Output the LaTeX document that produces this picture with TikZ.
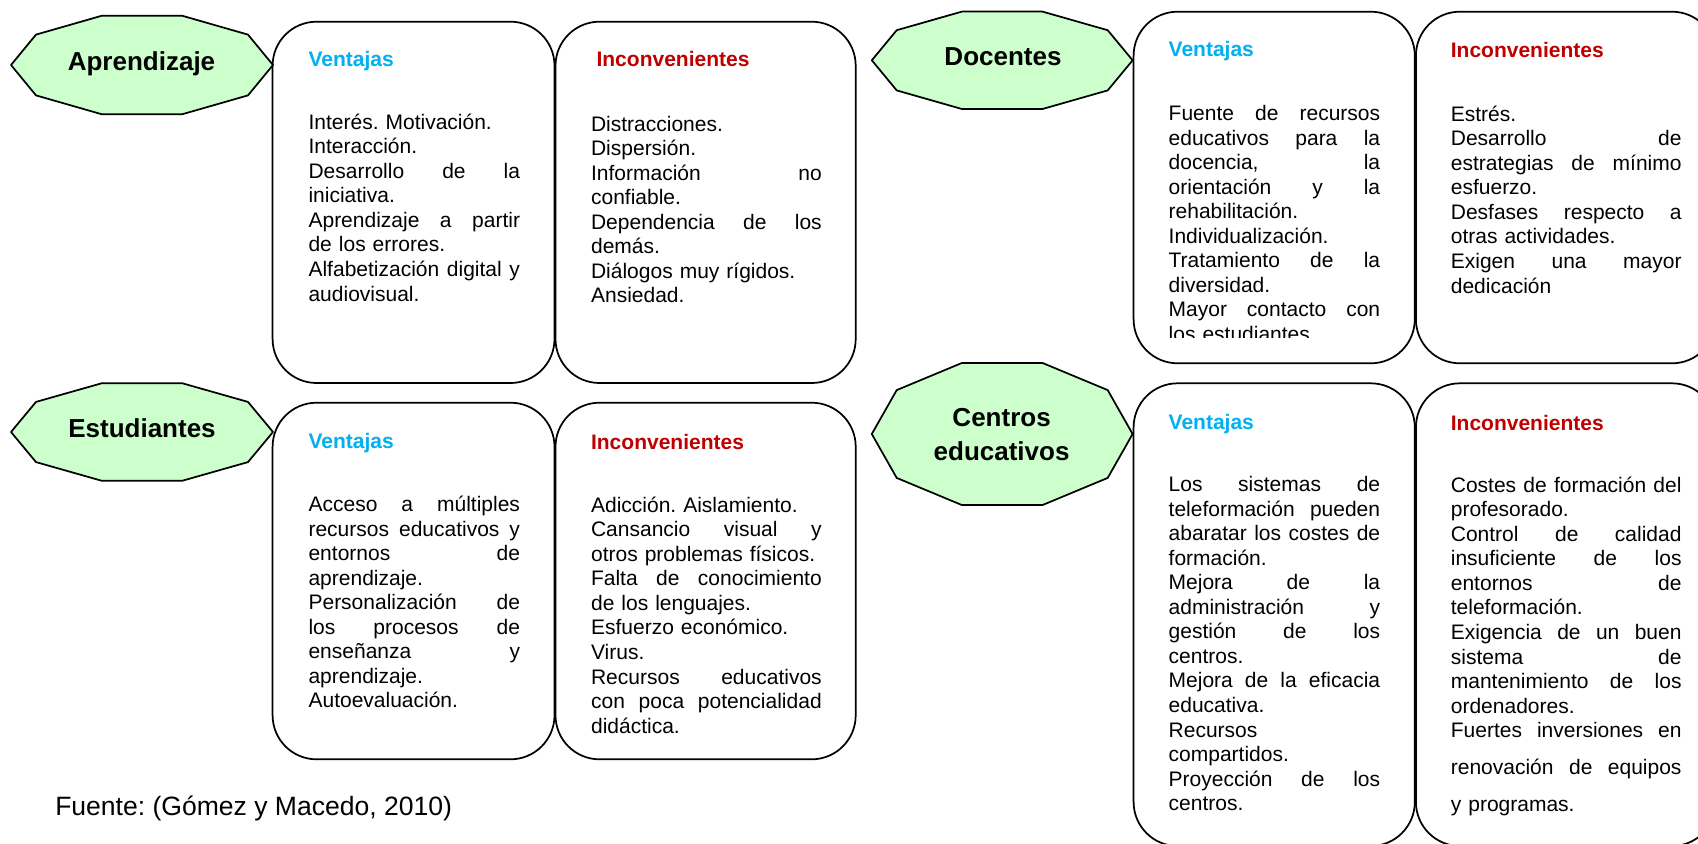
\documentclass[tikz,border=0pt]{standalone}
\usepackage{fontspec}
\setmainfont{Liberation Sans}
\definecolor{verdeclaro}{HTML}{CCFFCC}
\definecolor{azulv}{HTML}{00B0F0}
\definecolor{rojoi}{HTML}{C00000}
% column width of the text block in force
\newlength\colw
% justified line: the spaces stretch to fill the whole column
\newcommand\J[1]{\leavevmode\hbox to \colw{\spaceskip=0.28em plus 1fil\relax #1}}
% decagon: centre (#1,#2), radii #3 and #4
\newcommand\decagono[4]{\draw[deca] plot[samples at={0,36,...,324}, variable=\t] ({#1+#3*cos(\t)},{#2+#4*sin(\t)}) -- cycle;}
\begin{document}
\frenchspacing
\begin{tikzpicture}[x=0.75pt,y=-0.75pt,
  caja/.style={draw=black, line width=1.3pt, rounded corners=33pt},
  deca/.style={draw=black, line width=1.3pt, fill=verdeclaro, line join=round},
  etiqueta/.style={anchor=base, inner sep=0pt, font=\fontsize{19.5}{26}\selectfont\bfseries},
  ventaja/.style={anchor=base west, inner sep=0pt, font=\fontsize{15.75}{18.4}\selectfont\bfseries, text=azulv},
  inconv/.style={anchor=base west, inner sep=0pt, font=\fontsize{15.75}{18.4}\selectfont\bfseries, text=rojoi},
  cuerpo/.style={anchor=base west, inner sep=0pt, align=left, font=\fontsize{15.75}{18.4}\selectfont},
  colv/.style={cuerpo, text width=158.6pt, execute at begin node={\setlength\colw{158.6pt}}},
  coli/.style={cuerpo, text width=173pt, execute at begin node={\setlength\colw{173pt}}},
]
\fill[white] (0,0) rectangle (1698,843);
\useasboundingbox (0,0) rectangle (1698,843);
\clip (0,0) rectangle (1698,843);

% rounded boxes
\draw[caja] (272.6,21.7) rectangle (554.5,383);
\draw[caja] (555.5,21.7) rectangle (855.7,383);
\draw[caja] (1133.6,11.7) rectangle (1414.8,363.3);
\draw[caja] (1415.9,11.7) rectangle (1716,363.3);
\draw[caja] (272.6,402.7) rectangle (554.5,759.3);
\draw[caja] (555.5,402.7) rectangle (855.7,759.3);
\draw[caja] (1133.6,383.3) rectangle (1414.8,846);
\draw[caja] (1415.9,383.3) rectangle (1716,846);

% decagons
\decagono{142}{65}{131}{51.7}
\decagono{1002.2}{60.3}{130.4}{51.2}
\decagono{142}{432}{131}{51.2}
\decagono{1002.2}{434}{130.4}{74.7}

\node[etiqueta] (aprendizaje) at (141.5,70.7) {Aprendizaje};
\node[etiqueta] (docentes) at (1003,65.7) {Docentes};
\node[etiqueta] (estudiantes) at (142,437.7) {Estudiantes};
\node[etiqueta, align=center, text width=200pt] (centros) at (1001.6,426) {Centros\\educativos};

% headings
\node[ventaja] (av) at (308.3,66.7) {Ventajas};
\node[inconv] (ai) at (596.3,66.7) {Inconvenientes};
\node[ventaja] (dv) at (1168.4,56.7) {Ventajas};
\node[inconv] (di) at (1450.6,57.3) {Inconvenientes};
\node[ventaja] (ev) at (308.3,448.3) {Ventajas};
\node[inconv] (ei) at (590.8,449.3) {Inconvenientes};
\node[ventaja] (cv) at (1168.4,429) {Ventajas};
\node[inconv] (ci) at (1450.6,430) {Inconvenientes};

% Aprendizaje
\node[colv] (avt) at (308.3,129.3) {Interés. Motivación.\\
Interacción.\\
\J{Desarrollo de la}\\
iniciativa.\\
\J{Aprendizaje a partir}\\
de los errores.\\
\J{Alfabetización digital y}\\
audiovisual.};
\node[coli] (ait) at (590.8,131) {Distracciones.\\
Dispersión.\\
\J{Información no}\\
confiable.\\
\J{Dependencia de los}\\
demás.\\
Diálogos muy rígidos.\\
Ansiedad.};

% Docentes
\begin{scope}
\clip (1140,80) rectangle (1410,337.3);
\node[colv] (dvt) at (1168.4,120.7) {\J{Fuente de recursos}\\
\J{educativos para la}\\
\J{docencia, la}\\
\J{orientación y la}\\
rehabilitación.\\
Individualización.\\
\J{Tratamiento de la}\\
diversidad.\\
\J{Mayor contacto con}\\
los estudiantes.};
\end{scope}
\node[coli] (dit) at (1450.6,121.3) {Estrés.\\
\J{Desarrollo de}\\
\J{estrategias de mínimo}\\
esfuerzo.\\
\J{Desfases respecto a}\\
otras actividades.\\
\J{Exigen una mayor}\\
dedicación};

% Estudiantes
\node[colv] (evt) at (308.3,511.7) {\J{Acceso a múltiples}\\
\J{recursos educativos y}\\
\J{entornos de}\\
aprendizaje.\\
\J{Personalización de}\\
\J{los procesos de}\\
\J{enseñanza y}\\
aprendizaje.\\
Autoevaluación.};
\node[coli] (eit) at (590.8,512.3) {Adicción. Aislamiento.\\
\J{Cansancio visual y}\\
otros problemas físicos.\\
\J{Falta de conocimiento}\\
de los lenguajes.\\
Esfuerzo económico.\\
Virus.\\
\J{Recursos educativos}\\
\J{con poca potencialidad}\\
didáctica.};

% Centros educativos
\node[colv] (cvt) at (1168.4,491.7) {\J{Los sistemas de}\\
\J{teleformación pueden}\\
\J{abaratar los costes de}\\
formación.\\
\J{Mejora de la}\\
\J{administración y}\\
\J{gestión de los}\\
centros.\\
\J{Mejora de la eficacia}\\
educativa.\\
Recursos\\
compartidos.\\
\J{Proyección de los}\\
centros.};
\node[coli] (cit) at (1450.6,492.3) {\J{Costes de formación del}\\
profesorado.\\
\J{Control de calidad}\\
\J{insuficiente de los}\\
\J{entornos de}\\
teleformación.\\
\J{Exigencia de un buen}\\
\J{sistema de}\\
\J{mantenimiento de los}\\
ordenadores.\\
\J{Fuertes inversiones en}\\[9.4pt]
\J{renovación de equipos}\\[9.4pt]
y programas.};

\node[anchor=base west, inner sep=0pt, font=\fontsize{19.9}{24}\selectfont] (fuente) at (55,815) {Fuente: (Gómez y Macedo, 2010)};
\end{tikzpicture}
\end{document}
